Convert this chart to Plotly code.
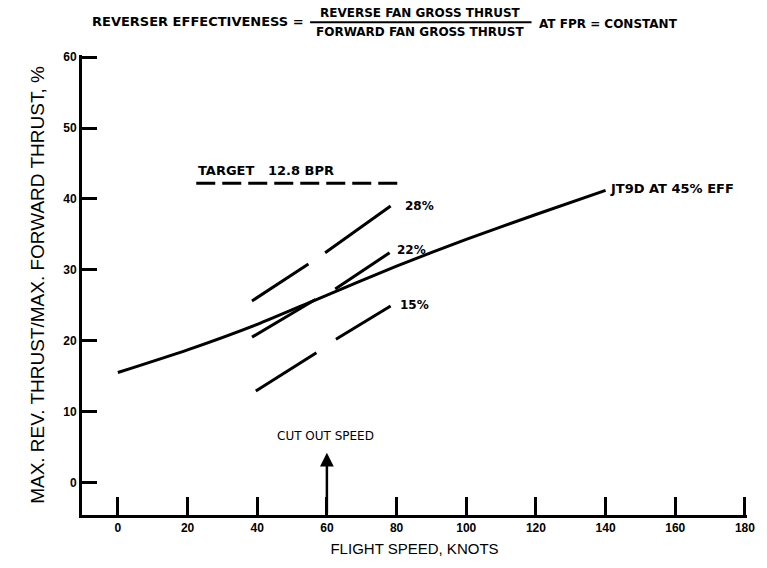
import plotly.graph_objects as go

# Flight speed (knots) and reverse/forward thrust ratio (%)
jt9d_speed = [0, 20, 40, 57, 80, 100, 120, 140]
jt9d_thrust = [15.5, 18.7, 22.3, 25.8, 30.5, 34.3, 37.8, 41.2]

eff28_speed = [38.5, 54.7, None, 59.5, 78.3]
eff28_thrust = [25.6, 30.8, None, 32.4, 39.0]

eff22_speed = [38.5, 56.7, None, 62.4, 78.0]
eff22_thrust = [20.5, 25.8, None, 27.3, 32.4]

eff15_speed = [39.6, 57.0, None, 62.6, 78.3]
eff15_thrust = [12.9, 18.3, None, 20.2, 24.9]

target_speed = [22.5, 81.0]
target_thrust = [42.2, 42.2]

cutout_speed = 60
x_ticks = [0, 20, 40, 60, 80, 100, 120, 140, 160, 180]
y_ticks = [0, 10, 20, 30, 40, 50, 60]

FONT = "Liberation Sans"
WIDE = "DejaVu Sans"
INK = "black"

fig = go.Figure()
line_style = dict(color=INK, width=3)
fig.add_trace(go.Scatter(x=jt9d_speed, y=jt9d_thrust, mode="lines",
                         line=dict(color=INK, width=3, shape="spline", smoothing=0.6)))
for xs, ys in [(eff28_speed, eff28_thrust), (eff22_speed, eff22_thrust),
               (eff15_speed, eff15_thrust)]:
    fig.add_trace(go.Scatter(x=xs, y=ys, mode="lines", line=line_style,
                             connectgaps=False))
fig.add_trace(go.Scatter(x=target_speed, y=target_thrust, mode="lines",
                         line=dict(color=INK, width=3, dash="19px,7px")))

small = dict(family=WIDE, size=12, color=INK)
large = dict(family=WIDE, size=13, color=INK)
labels = [
    (22.4, 44.0, "<b>TARGET   12.8 BPR</b>", large),
    (81.8, 39.0, "<b>28%</b>", small),
    (79.6, 32.8, "<b>22%</b>", small),
    (80.3, 25.0, "<b>15%</b>", small),
    (140.8, 41.4, "<b>JT9D AT 45% EFF</b>", large),
]
for x, y, t, f in labels:
    fig.add_annotation(x=x, y=y, text=t, showarrow=False, xanchor="left",
                       yanchor="middle", font=f)

fig.add_annotation(x=59.5, y=6.6, text="CUT OUT SPEED", showarrow=False,
                   font=dict(family=WIDE, size=12, color=INK))
fig.add_annotation(x=cutout_speed, y=4.2, ax=cutout_speed, ay=-4.6,
                   axref="x", ayref="y", xref="x", yref="y", text="",
                   showarrow=True, arrowhead=2, arrowsize=1.1, arrowwidth=2.5,
                   arrowcolor=INK)

# Definition of reverser effectiveness above the plot
head = dict(family=WIDE, size=12, color=INK)
fig.add_annotation(xref="paper", yref="paper", x=0.337, y=1.072,
                   text="<b>REVERSER EFFECTIVENESS =</b>", showarrow=False,
                   xanchor="right", yanchor="middle",
                   font=dict(family=WIDE, size=13, color=INK))
fig.add_annotation(xref="paper", yref="paper", x=0.509, y=1.092,
                   text="<b>REVERSE FAN GROSS THRUST</b>", showarrow=False,
                   xanchor="center", yanchor="middle", font=head)
fig.add_annotation(xref="paper", yref="paper", x=0.509, y=1.05,
                   text="<b>FORWARD FAN GROSS THRUST</b>", showarrow=False,
                   xanchor="center", yanchor="middle", font=head)
fig.add_annotation(xref="paper", yref="paper", x=0.684, y=1.068,
                   text="<b>AT FPR = CONSTANT</b>", showarrow=False,
                   xanchor="left", yanchor="middle", font=head)
fig.add_shape(type="line", xref="paper", yref="paper", x0=0.343, x1=0.676,
              y0=1.071, y1=1.071, line=dict(color=INK, width=2))

fig.update_layout(
    width=767, height=568,
    margin=dict(l=82, r=15, t=55, b=53),
    paper_bgcolor="white", plot_bgcolor="white",
    showlegend=False,
    font=dict(family=FONT, color=INK),
)
fig.update_xaxes(
    range=[-10.3, 180.6], tickvals=x_ticks,
    ticktext=[f"<b>{v}</b>" for v in x_ticks],
    ticks="inside", ticklen=18, tickwidth=2.5, tickcolor=INK,
    showline=True, linewidth=3, linecolor=INK, showgrid=False, zeroline=False,
    tickfont=dict(family=FONT, size=12, color=INK),
    title=dict(text="FLIGHT SPEED, KNOTS", font=dict(family=FONT, size=15, color=INK),
               standoff=10),
)
fig.update_yaxes(
    range=[-4.6, 60.3], tickvals=y_ticks,
    ticktext=[f"<b>{v}</b>" for v in y_ticks],
    ticks="inside", ticklen=15, tickwidth=2.5, tickcolor=INK,
    showline=True, linewidth=3, linecolor=INK, showgrid=False, zeroline=False,
    tickfont=dict(family=FONT, size=12, color=INK),
    title=dict(text="MAX. REV. THRUST/MAX. FORWARD THRUST, %",
               font=dict(family=FONT, size=19, color=INK), standoff=14),
)

fig.write_html("out.html")
